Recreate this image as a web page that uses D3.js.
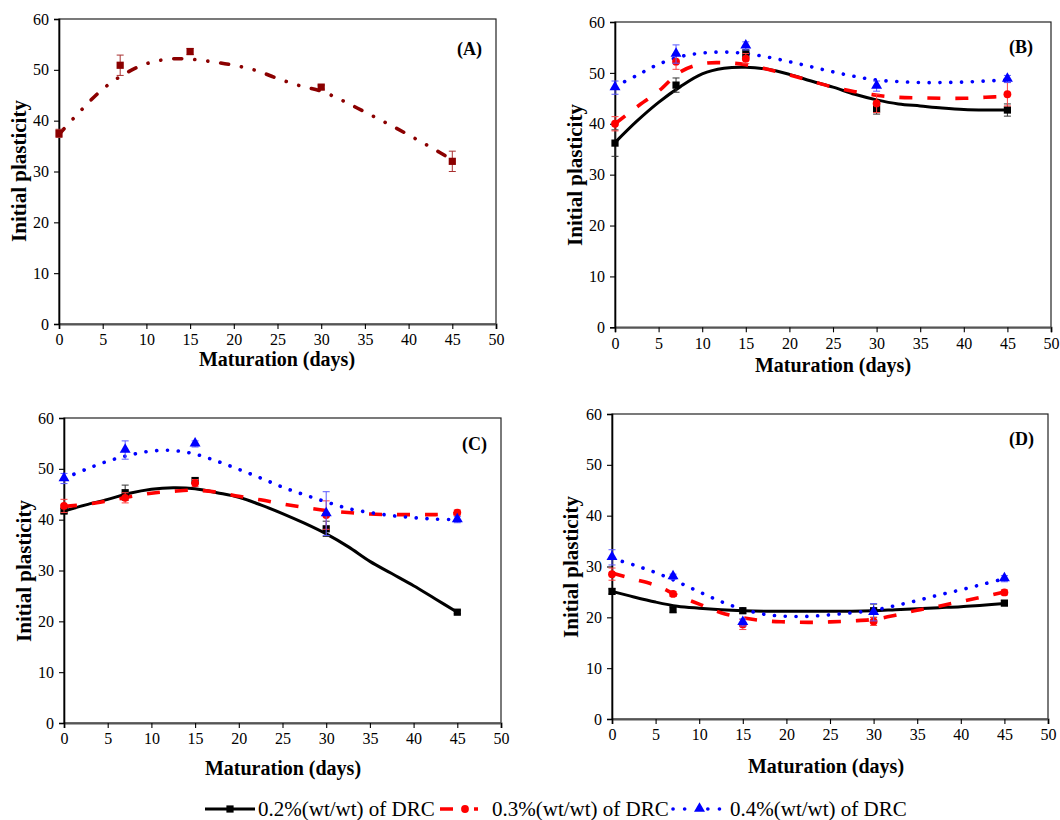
<!DOCTYPE html>
<html><head><meta charset="utf-8">
<script src="https://cdn.jsdelivr.net/npm/d3@7"></script>
<style>
body{margin:0;background:#fff}
svg text{font-family:"Liberation Serif","Times New Roman",Times,serif !important;fill:#000}
</style>
</head><body><svg id="c" width="1060" height="820" font-family="Liberation Serif"></svg>
<script>
// ---------------- data ----------------
const days = [0, 7, 15, 30, 45];
const fitDays = [0,2.5,5,7.5,10,12.5,15,17.5,20,22.5,25,27.5,30,32.5,35,37.5,40,42.5,45];
const xTicks = [0,5,10,15,20,25,30,35,40,45,50];
const yTicks = [0,10,20,30,40,50,60];
const seriesNames = ["0.2%(wt/wt) of DRC", "0.3%(wt/wt) of DRC", "0.4%(wt/wt) of DRC"];
const panelLabels = ["(A)", "(B)", "(C)", "(D)"];
const xTitle = "Maturation (days)";
const yTitle = "Initial plasticity";

// Panel A (single series)
const A_mean = [37.5, 50.9, 53.6, 46.6, 32.0];
const A_err  = [0.8, 2.0, 0.6, 0.4, 2.0];
const A_fit  = [37.3,42.0,46.2,49.2,51.2,52.1,52.1,51.6,50.9,49.9,48.3,46.9,45.8,43.9,41.7,39.5,37.2,34.8,32.3];

// Panel B
const B_02_mean = [36.2, 47.6, 53.8, 42.9, 42.7];
const B_02_err  = [2.6, 1.4, 0.8, 1.0, 1.2];
const B_02_fit  = [36.3,40.5,44.2,47.3,49.8,50.9,51.1,50.7,49.7,48.4,47.2,45.8,44.7,43.9,43.5,43.1,42.8,42.7,42.7];
const B_03_mean = [40.0, 52.2, 52.8, 44.0, 45.8];
const B_03_err  = [1.4, 1.5, 1.0, 1.8, 2.3];
const B_03_fit  = [40.0,43.3,46.4,50.2,51.8,52.0,51.6,50.7,49.6,48.4,47.2,46.3,45.6,45.2,45.1,45.0,45.0,45.2,45.4];
const B_04_mean = [47.1, 53.7, 55.3, 47.4, 48.8];
const B_04_err  = [1.3, 1.8, 0.8, 1.0, 0.7];
const B_04_fit  = [47.3,49.5,51.7,53.2,53.9,54.1,53.8,53.1,52.2,51.2,50.2,49.3,48.6,48.3,48.1,48.1,48.2,48.4,48.6];

// Panel C
const C_02_mean = [41.7, 45.3, 47.7, 38.2, 21.8];
const C_02_err  = [0.5, 1.5, 0.5, 1.5, 0.3];
const C_02_fit  = [41.7,42.9,44.0,45.2,46.0,46.3,46.1,45.3,44.4,42.9,41.2,39.3,37.2,34.7,31.8,29.4,27.0,24.4,21.8];
const C_03_mean = [42.7, 44.3, 47.2, 40.9, 41.4];
const C_03_err  = [1.3, 1.0, 0.7, 2.8, 0.5];
const C_03_fit  = [42.6,43.0,43.7,44.5,45.2,45.6,45.8,45.4,44.6,43.9,43.1,42.4,41.8,41.4,41.1,41.0,41.0,41.0,41.2];
const C_04_mean = [48.1, 53.7, 54.9, 41.2, 40.0];
const C_04_err  = [1.0, 1.8, 0.6, 4.3, 0.6];
const C_04_fit  = [48.1,49.9,51.5,52.7,53.5,53.6,52.9,51.5,49.9,48.2,46.4,44.9,43.5,42.2,41.4,40.8,40.4,40.1,40.0];

// Panel D
const D_02_mean = [25.1, 21.5, 21.3, 21.3, 22.8];
const D_02_err  = [0.5, 0.5, 0.5, 1.3, 0.5];
const D_02_fit  = [25.1,24.0,23.0,22.2,21.8,21.5,21.3,21.2,21.2,21.2,21.2,21.2,21.3,21.5,21.7,21.9,22.1,22.4,22.7];
const D_03_mean = [28.5, 24.6, 18.6, 19.2, 24.9];
const D_03_err  = [1.2, 0.5, 1.0, 0.8, 0.5];
const D_03_fit  = [28.7,27.5,26.3,24.3,22.6,20.9,19.9,19.3,19.1,19.0,19.1,19.3,19.6,20.4,21.4,22.2,23.1,24.0,25.0];
const D_04_mean = [31.8, 28.0, 19.0, 21.0, 27.6];
const D_04_err  = [1.5, 0.5, 0.7, 1.7, 0.6];
const D_04_fit  = [31.6,30.3,28.8,27.0,25.0,23.1,21.6,20.6,20.2,20.2,20.5,20.9,21.4,22.3,23.3,24.4,25.4,26.5,27.6];

// ---------------- styles ----------------
const FONT = "'Liberation Serif','Times New Roman',Times,serif";
const styles = {
  a:   {color:"#8b0000", err:"#a83030", marker:"square", dash:"8,13,0.1,13,0.1,13", width:3.6, cap:"round"},
  s02: {color:"#000000", err:"#333333", marker:"square", dash:null, width:3, cap:"butt"},
  s03: {color:"#ff0000", err:"#ff4040", marker:"circle", dash:"13,15", width:3.6, cap:"butt"},
  s04: {color:"#0000ff", err:"#5a5aff", marker:"triangle", dash:"0.1,10.7", width:3.6, cap:"round"}
};

const panels = [
  {label:panelLabels[0], box:{x0:59,x1:496,y0:324,y1:19}, labelPos:[482,55],
   xt:[277,366], yt:[26,171],
   series:[{st:styles.a, mean:A_mean, err:A_err, fit:A_fit}]},
  {label:panelLabels[1], box:{x0:615,x1:1051,y0:327.3,y1:22}, labelPos:[1033,53],
   xt:[833,372], yt:[582,175],
   series:[{st:styles.s02, mean:B_02_mean, err:B_02_err, fit:B_02_fit},
           {st:styles.s03, mean:B_03_mean, err:B_03_err, fit:B_03_fit},
           {st:styles.s04, mean:B_04_mean, err:B_04_err, fit:B_04_fit}]},
  {label:panelLabels[2], box:{x0:64,x1:501,y0:723,y1:418}, labelPos:[487,450],
   xt:[283,775], yt:[31,571],
   series:[{st:styles.s02, mean:C_02_mean, err:C_02_err, fit:C_02_fit},
           {st:styles.s03, mean:C_03_mean, err:C_03_err, fit:C_03_fit},
           {st:styles.s04, mean:C_04_mean, err:C_04_err, fit:C_04_fit}]},
  {label:panelLabels[3], box:{x0:612,x1:1048,y0:719,y1:414}, labelPos:[1034,445],
   xt:[826,773], yt:[578,567],
   series:[{st:styles.s02, mean:D_02_mean, err:D_02_err, fit:D_02_fit},
           {st:styles.s03, mean:D_03_mean, err:D_03_err, fit:D_03_fit},
           {st:styles.s04, mean:D_04_mean, err:D_04_err, fit:D_04_fit}]}
];

const svg = d3.select("#c");

function drawMarker(g, type, cx, cy, color){
  if(type==="square"){
    g.append("rect").attr("x",cx-3.6).attr("y",cy-3.6).attr("width",7.2).attr("height",7.2).attr("fill",color);
  } else if(type==="circle"){
    g.append("circle").attr("cx",cx).attr("cy",cy).attr("r",3.9).attr("fill",color);
  } else {
    g.append("path").attr("d", d3.symbol().type(d3.symbolTriangle).size(52)())
      .attr("transform",`translate(${cx},${cy-0.5})`).attr("fill",color);
  }
}

panels.forEach(p=>{
  const b = p.box;
  const x = d3.scaleLinear().domain([0,50]).range([b.x0,b.x1]);
  const y = d3.scaleLinear().domain([0,60]).range([b.y0,b.y1]);
  const g = svg.append("g");

  g.append("rect").attr("x",b.x0).attr("y",b.y1).attr("width",b.x1-b.x0).attr("height",b.y0-b.y1)
    .attr("fill","none").attr("stroke","#222").attr("stroke-width",1.2);

  const xa = g.append("g").attr("transform",`translate(0,${b.y0})`)
    .call(d3.axisBottom(x).tickValues(xTicks).tickSize(5).tickPadding(5).tickFormat(d3.format("d")));
  xa.attr("font-family", FONT).attr("font-size", 16);
  xa.select(".domain").attr("stroke","#555").attr("stroke-width",2);
  xa.selectAll(".tick line").attr("stroke","#000").attr("stroke-width",1.1);
  xa.selectAll("text").style("font-family",FONT).style("font-size","16px").attr("fill","#222");
  const ya = g.append("g").attr("transform",`translate(${b.x0},0)`)
    .call(d3.axisLeft(y).tickValues(yTicks).tickSize(5).tickPadding(5).tickFormat(d3.format("d")));
  ya.attr("font-family", FONT).attr("font-size", 16);
  ya.select(".domain").attr("stroke","#000").attr("stroke-width",1.6);
  ya.selectAll(".tick line").attr("stroke","#000").attr("stroke-width",1.1);
  ya.selectAll("text").style("font-family",FONT).style("font-size","16px").attr("fill","#222");

  const line = d3.line().x((d,i)=>x(fitDays[i])).y(d=>y(d)).curve(d3.curveCatmullRom.alpha(0.5));
  p.series.forEach(s=>{
    g.append("path").attr("d", line(s.fit)).attr("fill","none")
      .attr("stroke", s.st.color).attr("stroke-width", s.st.width)
      .attr("stroke-linecap", s.st.cap)
      .attr("stroke-dasharray", s.st.dash);
  });
  p.series.forEach(s=>{
    s.mean.forEach((m,i)=>{
      const cx = x(days[i]), yt = y(m + s.err[i]), yb = y(m - s.err[i]);
      const eg = g.append("g").attr("stroke", s.st.err).attr("stroke-width",1);
      eg.append("line").attr("x1",cx).attr("x2",cx).attr("y1",yt).attr("y2",yb);
      eg.append("line").attr("x1",cx-3.5).attr("x2",cx+3.5).attr("y1",yt).attr("y2",yt);
      eg.append("line").attr("x1",cx-3.5).attr("x2",cx+3.5).attr("y1",yb).attr("y2",yb);
    });
    s.mean.forEach((m,i)=> drawMarker(g, s.st.marker, x(days[i]), y(m), s.st.color));
  });

  g.append("text").attr("x",p.xt[0]).attr("y",p.xt[1]).attr("text-anchor","middle")
    .style("font-family",FONT).style("font-size","20px").style("font-weight","bold").text(xTitle);
  g.append("text").attr("transform",`translate(${p.yt[0]},${p.yt[1]}) rotate(-90)`).attr("text-anchor","middle")
    .style("font-family",FONT).style("font-size","21px").style("font-weight","bold").text(yTitle);
  g.append("text").attr("x",p.labelPos[0]).attr("y",p.labelPos[1]).attr("text-anchor","end")
    .style("font-family",FONT).style("font-size","18px").style("font-weight","bold").text(p.label);
});

const legend = [
  {st:styles.s02, x0:205, x1:255, tx:258},
  {st:styles.s03, x0:440, x1:490, tx:492},
  {st:styles.s04, x0:673, x1:726, tx:730}
];
const lg = svg.append("g");
legend.forEach((l,i)=>{
  const ly = 809;
  let dash = l.st.dash;
  if(l.st.marker==="circle") dash = "13,12";
  if(l.st.marker==="triangle") dash = "0.1,11.5";
  lg.append("line").attr("x1",l.x0).attr("x2",l.x1).attr("y1",ly).attr("y2",ly)
    .attr("stroke",l.st.color).attr("stroke-width",l.st.width).attr("stroke-linecap",l.st.cap)
    .attr("stroke-dasharray",dash);
  if(l.st.marker==="circle"){
    lg.append("rect").attr("x",(l.x0+l.x1)/2-9).attr("y",ly-5).attr("width",18).attr("height",10).attr("fill","#fff");
  }
  if(l.st.marker==="triangle"){
    lg.append("rect").attr("x",(l.x0+l.x1)/2-6).attr("y",ly-5).attr("width",12).attr("height",10).attr("fill","#fff");
  }
  drawMarker(lg, l.st.marker, (l.x0+l.x1)/2, ly, l.st.color);
  lg.append("text").attr("x",l.tx).attr("y",816).style("font-family",FONT).style("font-size","21px").text(seriesNames[i]);
});
</script>
</body></html>
